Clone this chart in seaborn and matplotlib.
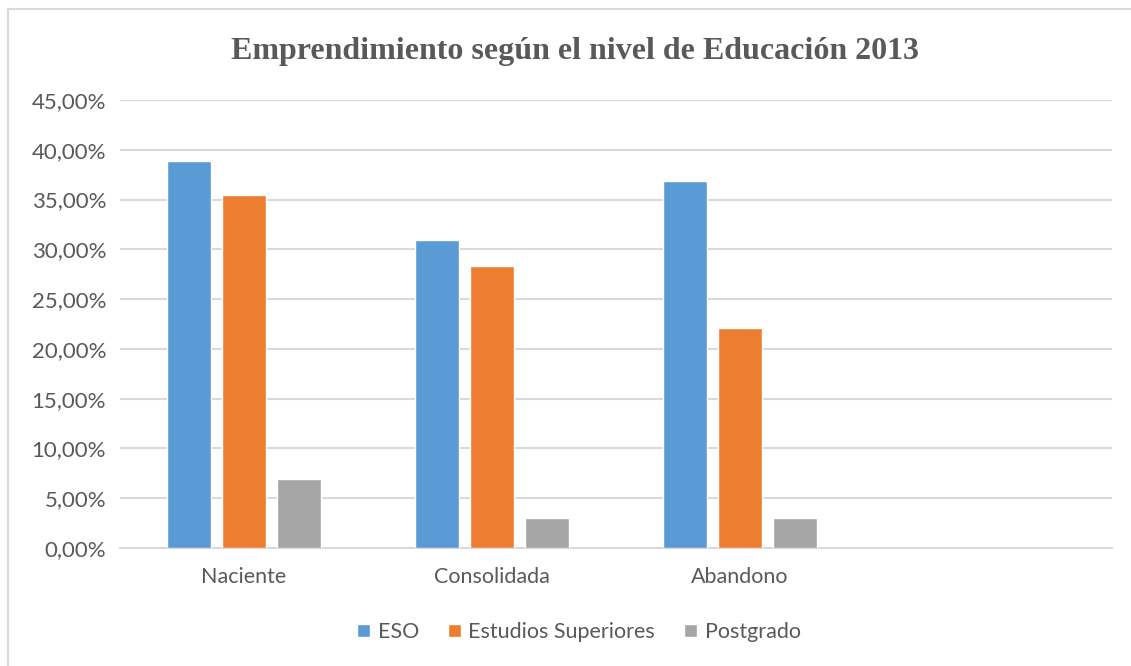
import numpy as np
import pandas as pd
import matplotlib
matplotlib.use('Agg')
import matplotlib.pyplot as plt
from matplotlib.patches import Rectangle
import seaborn as sns

# data (percent)
categories = ['Naciente', 'Consolidada', 'Abandono']
series = ['ESO', 'Estudios Superiores', 'Postgrado']
eso = [38.9, 30.9, 36.9]
superiores = [35.5, 28.3, 22.1]
postgrado = [6.9, 3.0, 3.0]
yticks = [0, 5, 10, 15, 20, 25, 30, 35, 40, 45]
colors = ['#5B9BD5', '#ED7D31', '#A5A5A5']

df = pd.DataFrame({
    'categoria': categories * 3,
    'nivel': [s for s in series for _ in categories],
    'valor': eso + superiores + postgrado,
})

sns.set_style('white')
plt.rcParams['font.family'] = ['Lato', 'DejaVu Sans']
text_color = '#595959'
grid_color = '#D9D9D9'

fig = plt.figure(figsize=(11.31, 6.66), dpi=100)
ax = fig.add_axes([120 / 1131, 118 / 666, 992 / 1131, 448 / 666])

# empty fourth slot, as in the original
order = categories + ['']
sns.barplot(data=df, x='categoria', y='valor', hue='nivel', order=order,
            hue_order=series, palette=colors, width=0.665, gap=0.2,
            saturation=1, ax=ax, legend=True, zorder=3)

ax.set_ylim(0, 45)
ax.set_xlim(-0.5, 3.5)
ax.set_yticks(yticks)
ax.set_yticklabels([f'{v:.2f}%'.replace('.', ',') for v in yticks])
ax.yaxis.grid(True, color=grid_color, linewidth=1.5, zorder=0)
ax.set_axisbelow(True)
for side in ['top', 'right', 'left']:
    ax.spines[side].set_visible(False)
ax.spines['bottom'].set_color(grid_color)
ax.spines['bottom'].set_linewidth(1.5)
ax.tick_params(axis='both', length=0, colors=text_color)
ax.tick_params(axis='x', pad=14, labelsize=15.5)
ax.tick_params(axis='y', pad=10, labelsize=16)
ax.set_xlabel('')
ax.set_ylabel('')

fig.text(0.5084, 1 - 59.5 / 666, 'Emprendimiento según el nivel de Educación 2013',
         ha='center', va='baseline', fontsize=23, fontweight='bold',
         color=text_color, family=['Liberation Serif', 'DejaVu Serif'])

handles, labels = ax.get_legend_handles_labels()
ax.legend(handles, labels, loc='center', bbox_to_anchor=(579 / 1131, 1 - 632 / 666),
          bbox_transform=fig.transFigure, ncol=3, frameon=False,
          fontsize=15.5, handlelength=0.6, handleheight=0.6,
          handletextpad=0.35, columnspacing=1.35, labelcolor=text_color)

# light frame visible on top and left of the original
fig.patches.append(Rectangle((8 / 1131, -0.1), 1.2, 1 - 9 / 666 + 0.1,
                             transform=fig.transFigure, fill=False,
                             edgecolor=grid_color, linewidth=1.5))

fig.savefig('out.png', dpi=100)
